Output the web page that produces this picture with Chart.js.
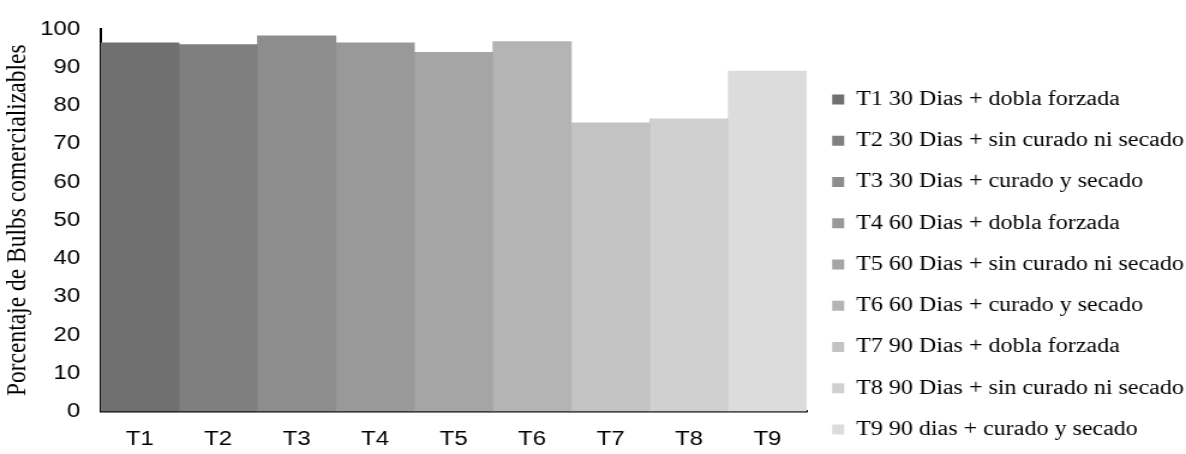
<!DOCTYPE html>
<html>
<head>
<meta charset="utf-8">
<script src="https://cdn.jsdelivr.net/npm/chart.js@4"></script>
<style>
  html, body { margin: 0; padding: 0; background: #fff; overflow: hidden; }
  /* el gráfico se dibuja a 988 px de ancho y se ensancha a 1186 px */
  #wrap { width: 988px; height: 454px; transform: scale(1.2004, 1); transform-origin: 0 0; }
</style>
</head>
<body>
<div id="wrap"><canvas id="chart" width="988" height="454"></canvas></div>
<script>
// Tratamientos y porcentaje de bulbos comercializables
const tratamientos = ['T1', 'T2', 'T3', 'T4', 'T5', 'T6', 'T7', 'T8', 'T9'];
const porcentajes = [96.4, 95.9, 98.2, 96.4, 93.9, 96.7, 75.5, 76.5, 89.0];
const nombres = [
    'T1 30 Dias + dobla forzada',
    'T2 30 Dias + sin curado ni secado',
    'T3 30 Dias + curado y secado',
    'T4 60 Dias + dobla forzada',
    'T5 60 Dias + sin curado ni secado',
    'T6 60 Dias + curado y secado',
    'T7 90 Dias + dobla forzada',
    'T8 90 Dias + sin curado ni secado',
    'T9 90 dias + curado y secado'
];
const grises = ['#707070', '#7f7f7f', '#8d8d8d', '#999999', '#a5a5a5', '#b4b4b4', '#c3c3c3', '#d0d0d0', '#dcdcdc'];

const serif = '"Liberation Serif", "Times New Roman", serif';
const sans = '"Liberation Sans", Arial, sans-serif';

// una serie por tratamiento, con valor solo en su propia categoría
const datasets = tratamientos.map((t, i) => ({
    label: nombres[i],
    data: tratamientos.map((_, j) => (j === i ? porcentajes[i] : null)),
    backgroundColor: grises[i],
    borderWidth: 0,
    barPercentage: 1,
    categoryPercentage: 1,
    grouped: false
}));

new Chart(document.getElementById('chart'), {
    type: 'bar',
    data: { labels: tratamientos, datasets: datasets },
    options: {
        responsive: false,
        devicePixelRatio: 1,
        animation: false,
        layout: { padding: { top: 20, right: 0, left: 0, bottom: -6.75 } },
        plugins: {
            tooltip: { enabled: false },
            legend: {
                position: 'right',
                align: 'end',
                maxWidth: 316,
                labels: {
                    boxWidth: 10,
                    boxHeight: 10,
                    padding: 21.25,
                    color: '#000',
                    font: { family: serif, size: 20 }
                }
            }
        },
        scales: {
            x: {
                grid: { display: false, drawTicks: false },
                border: { display: true, color: '#000', width: 2.5 },
                ticks: {
                    color: '#000',
                    padding: 16,
                    font: { family: sans, size: 20 }
                },
                afterFit: (scale) => { scale.height = 49.25; }
            },
            y: {
                min: 0,
                max: 100,
                grid: { display: false, drawTicks: false },
                border: { display: true, color: '#000', width: 2 },
                ticks: {
                    stepSize: 10,
                    color: '#000',
                    padding: 17,
                    font: { family: sans, size: 20 }
                },
                title: {
                    display: true,
                    text: 'Porcentaje de Bulbs comercializables',
                    color: '#000',
                    padding: { top: 1, bottom: 0 },
                    font: { family: serif, size: 23.5 }
                },
                afterFit: (scale) => { scale.width = 83.75; }
            }
        }
    }
});
</script>
</body>
</html>
